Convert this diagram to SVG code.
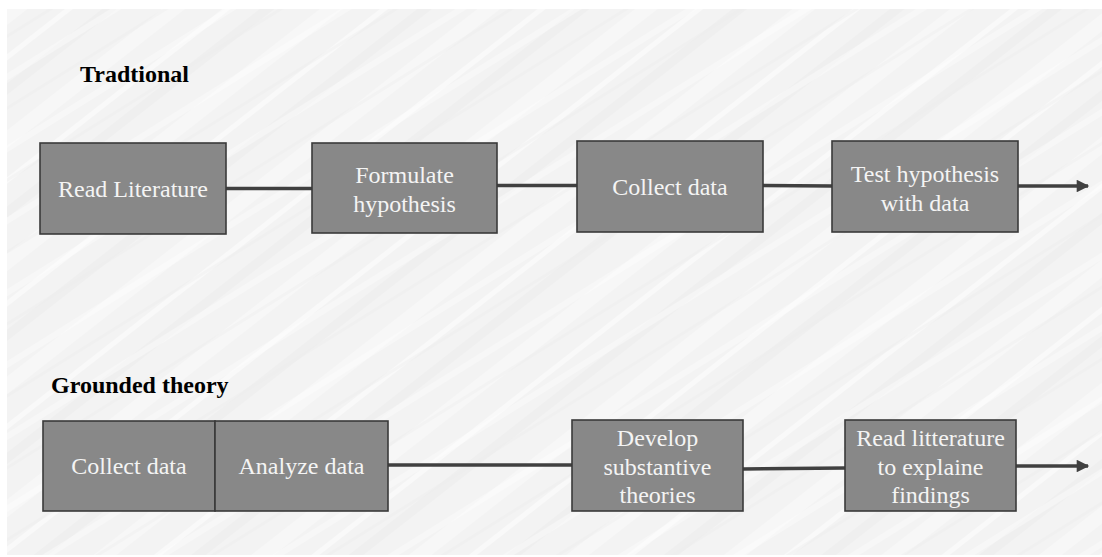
<svg xmlns="http://www.w3.org/2000/svg" width="1102" height="557" viewBox="0 0 1102 557">
  <style>
    .box { fill: #888888; stroke: #3a3a3a; stroke-width: 1.6; }
    .label { font-family: "Liberation Serif", "Times New Roman", serif; font-size: 24px; fill: #f4f4f4; text-anchor: middle; }
    .title { font-family: "Liberation Serif", "Times New Roman", serif; font-size: 24px; font-weight: bold; fill: #000; }
    .link { stroke: #404040; stroke-width: 3.5; fill: none; }
  </style>
  <defs>
    <marker id="arrow" viewBox="0 0 10 10" refX="9" refY="5" markerWidth="4" markerHeight="3.6" markerUnits="strokeWidth" orient="auto">
      <path d="M0,0 L10,5 L0,10 z" fill="#404040"/>
    </marker>
    <!-- faint diagonal streaks of the paper texture, two overlapping periods -->
    <pattern id="streaks" width="140" height="97" patternUnits="userSpaceOnUse" patternTransform="rotate(-38)">
      <rect width="140" height="97" fill="#f3f3f3"/>
      <rect y="10" width="140" height="14" fill="#f7f7f7"/>
      <rect y="47" width="140" height="5" fill="#f9f9f9"/>
      <rect y="70" width="140" height="9" fill="#efefef"/>
    </pattern>
    <pattern id="streaks2" width="220" height="61" patternUnits="userSpaceOnUse" patternTransform="rotate(-32)">
      <rect y="5" width="220" height="6" fill="#ffffff" opacity="0.35"/>
      <rect y="33" width="220" height="3" fill="#e9e9e9" opacity="0.35"/>
    </pattern>
  </defs>

  <!-- page -->
  <rect width="1102" height="557" fill="#ffffff"/>
  <rect x="7" y="9" width="1095" height="546" fill="url(#streaks)"/>
  <rect x="7" y="9" width="1095" height="546" fill="url(#streaks2)"/>

  <!-- section titles -->
  <text class="title" x="80" y="82">Tradtional</text>
  <text class="title" x="51" y="393">Grounded theory</text>

  <!-- connectors -->
  <g id="connectors">
    <line class="link" x1="226" y1="188.5" x2="312" y2="188.5"/>
    <line class="link" x1="497" y1="185.5" x2="577" y2="185.5"/>
    <line class="link" x1="763" y1="185.5" x2="832" y2="186"/>
    <line class="link" x1="1018" y1="186" x2="1088" y2="186" marker-end="url(#arrow)"/>
    <line class="link" x1="388" y1="465" x2="572" y2="465"/>
    <line class="link" x1="743" y1="469" x2="845" y2="468"/>
    <line class="link" x1="1016" y1="466" x2="1088" y2="466" marker-end="url(#arrow)"/>
  </g>

  <!-- traditional sequence -->
  <g id="read-literature">
    <rect class="box" x="40" y="143" width="186" height="91"/>
    <text class="label" x="133" y="197">Read Literature</text>
  </g>
  <g id="formulate-hypothesis">
    <rect class="box" x="312" y="143" width="185" height="90"/>
    <text class="label" x="404.5" y="183">Formulate</text>
    <text class="label" x="404.5" y="212">hypothesis</text>
  </g>
  <g id="collect-data-1">
    <rect class="box" x="577" y="141" width="186" height="91"/>
    <text class="label" x="670" y="195">Collect data</text>
  </g>
  <g id="test-hypothesis">
    <rect class="box" x="832" y="141" width="186" height="91"/>
    <text class="label" x="925" y="182">Test hypothesis</text>
    <text class="label" x="925" y="211">with data</text>
  </g>

  <!-- grounded theory sequence -->
  <g id="collect-data-2">
    <rect class="box" x="43" y="421" width="172" height="90"/>
    <text class="label" x="129" y="474">Collect data</text>
  </g>
  <g id="analyze-data">
    <rect class="box" x="215" y="421" width="173" height="90"/>
    <text class="label" x="301.5" y="474">Analyze data</text>
  </g>
  <g id="develop-theories">
    <rect class="box" x="572" y="420" width="171" height="91"/>
    <text class="label" x="657.5" y="446">Develop</text>
    <text class="label" x="657.5" y="475">substantive</text>
    <text class="label" x="657.5" y="503">theories</text>
  </g>
  <g id="read-litterature">
    <rect class="box" x="845" y="420" width="171" height="91"/>
    <text class="label" x="930.5" y="446">Read litterature</text>
    <text class="label" x="930.5" y="475">to explaine</text>
    <text class="label" x="930.5" y="503">findings</text>
  </g>
</svg>
